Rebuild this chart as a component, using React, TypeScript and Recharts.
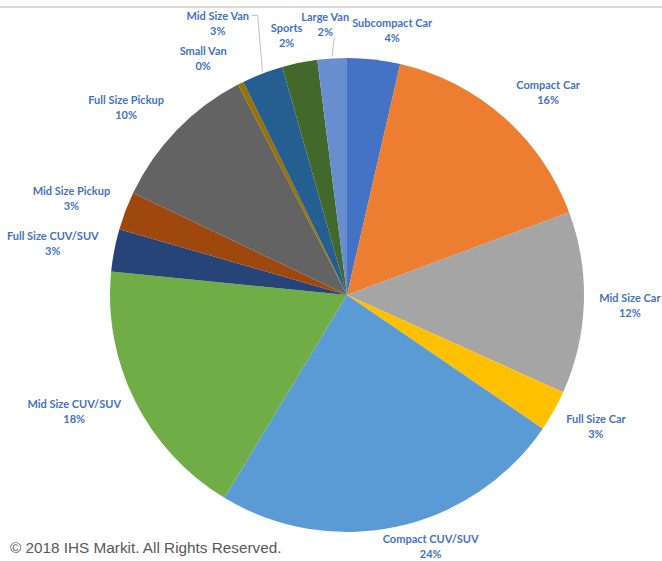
import { Cell, Pie, PieChart } from 'recharts'

const segments = [
  'Subcompact Car',
  'Compact Car',
  'Mid Size Car',
  'Full Size Car',
  'Compact CUV/SUV',
  'Mid Size CUV/SUV',
  'Full Size CUV/SUV',
  'Mid Size Pickup',
  'Full Size Pickup',
  'Small Van',
  'Mid Size Van',
  'Sports',
  'Large Van',
]

const shares = [3.6, 15.7, 12.4, 2.8, 24.1, 17.9, 2.9, 2.6, 10.3, 0.4, 2.8, 2.4, 2.0]

const palette = [
  '#4472c4',
  '#ed7d31',
  '#a5a5a5',
  '#ffc000',
  '#5b9bd5',
  '#70ad47',
  '#264478',
  '#9e480e',
  '#636363',
  '#997300',
  '#255e91',
  '#43682b',
  '#698ed0',
]

// nudges for the data labels, roughly where excel's "best fit" put them
const labelNudge: [number, number][] = [
  [15, 1],
  [25, -2],
  [16, 2],
  [16, 1],
  [27, -9],
  [-34, -3],
  [-32, -1],
  [-26, -2],
  [-29, -2],
  [-24, 2],
  [-34, -22],
  [-7, 2],
  [-5, -4],
]

const data = segments.map((name, i) => ({ name, value: shares[i] }))

const RAD = Math.PI / 180
const LABEL_GAP = 30
const LABEL_COLOR = '#4472c4'

function polar(cx: number, cy: number, r: number, angle: number) {
  return { x: cx + Math.cos(-angle * RAD) * r, y: cy + Math.sin(-angle * RAD) * r }
}

function renderLabel(props: any) {
  const { cx, cy, midAngle, outerRadius, percent, index, name } = props
  const base = polar(cx, cy, outerRadius + LABEL_GAP, midAngle)
  const [dx, dy] = labelNudge[index] ?? [0, 0]
  const x = base.x + dx
  const y = base.y + dy
  const edge = polar(cx, cy, outerRadius, midAngle)

  let leader = null
  if (name === 'Mid Size Van') {
    leader = (
      <polyline
        points={`${edge.x},${edge.y - 2} ${x + 40},${y - 8} ${x + 34},${y - 8}`}
        fill="none"
        stroke="#bfbfbf"
        strokeWidth={1}
      />
    )
  } else if (name === 'Large Van') {
    leader = (
      <line x1={edge.x} y1={edge.y - 2} x2={x + 9} y2={y + 13} stroke="#bfbfbf" strokeWidth={1} />
    )
  }

  return (
    <g key={`lbl-${index}`}>
      {leader}
      <text
        x={x}
        y={y}
        textAnchor="middle"
        fill={LABEL_COLOR}
        fontFamily="Lato, 'Open Sans', sans-serif"
        fontWeight={700}
        fontSize={11}
      >
        <tspan x={x} dy={-3.5}>
          {name}
        </tspan>
        <tspan x={x} dy={15}>
          {`${Math.round(percent * 100)}%`}
        </tspan>
      </text>
    </g>
  )
}

export default function App() {
  return (
    <div
      style={{
        position: 'absolute',
        top: 0,
        left: 0,
        width: 662,
        height: 561,
        background: '#fff',
        overflow: 'hidden',
      }}
    >
      <div
        style={{
          position: 'absolute',
          top: 6,
          left: 0,
          width: 662,
          height: 2,
          background: '#d9d9d9',
        }}
      />
      <PieChart width={662} height={561} margin={{ top: 0, right: 0, bottom: 0, left: 0 }}>
        <Pie
          data={data}
          dataKey="value"
          nameKey="name"
          cx={347}
          cy={295}
          outerRadius={237}
          startAngle={90}
          endAngle={-270}
          stroke="none"
          label={renderLabel}
          labelLine={false}
          isAnimationActive={false}
        >
          {data.map((d, i) => (
            <Cell key={d.name} fill={palette[i]} />
          ))}
        </Pie>
      </PieChart>
      <div
        style={{
          position: 'absolute',
          left: 10,
          top: 539,
          fontFamily: "'Liberation Sans', Arial, sans-serif",
          fontSize: 15.3,
          color: '#595959',
          whiteSpace: 'nowrap',
        }}
      >
        © 2018 IHS Markit. All Rights Reserved.
      </div>
    </div>
  )
}
